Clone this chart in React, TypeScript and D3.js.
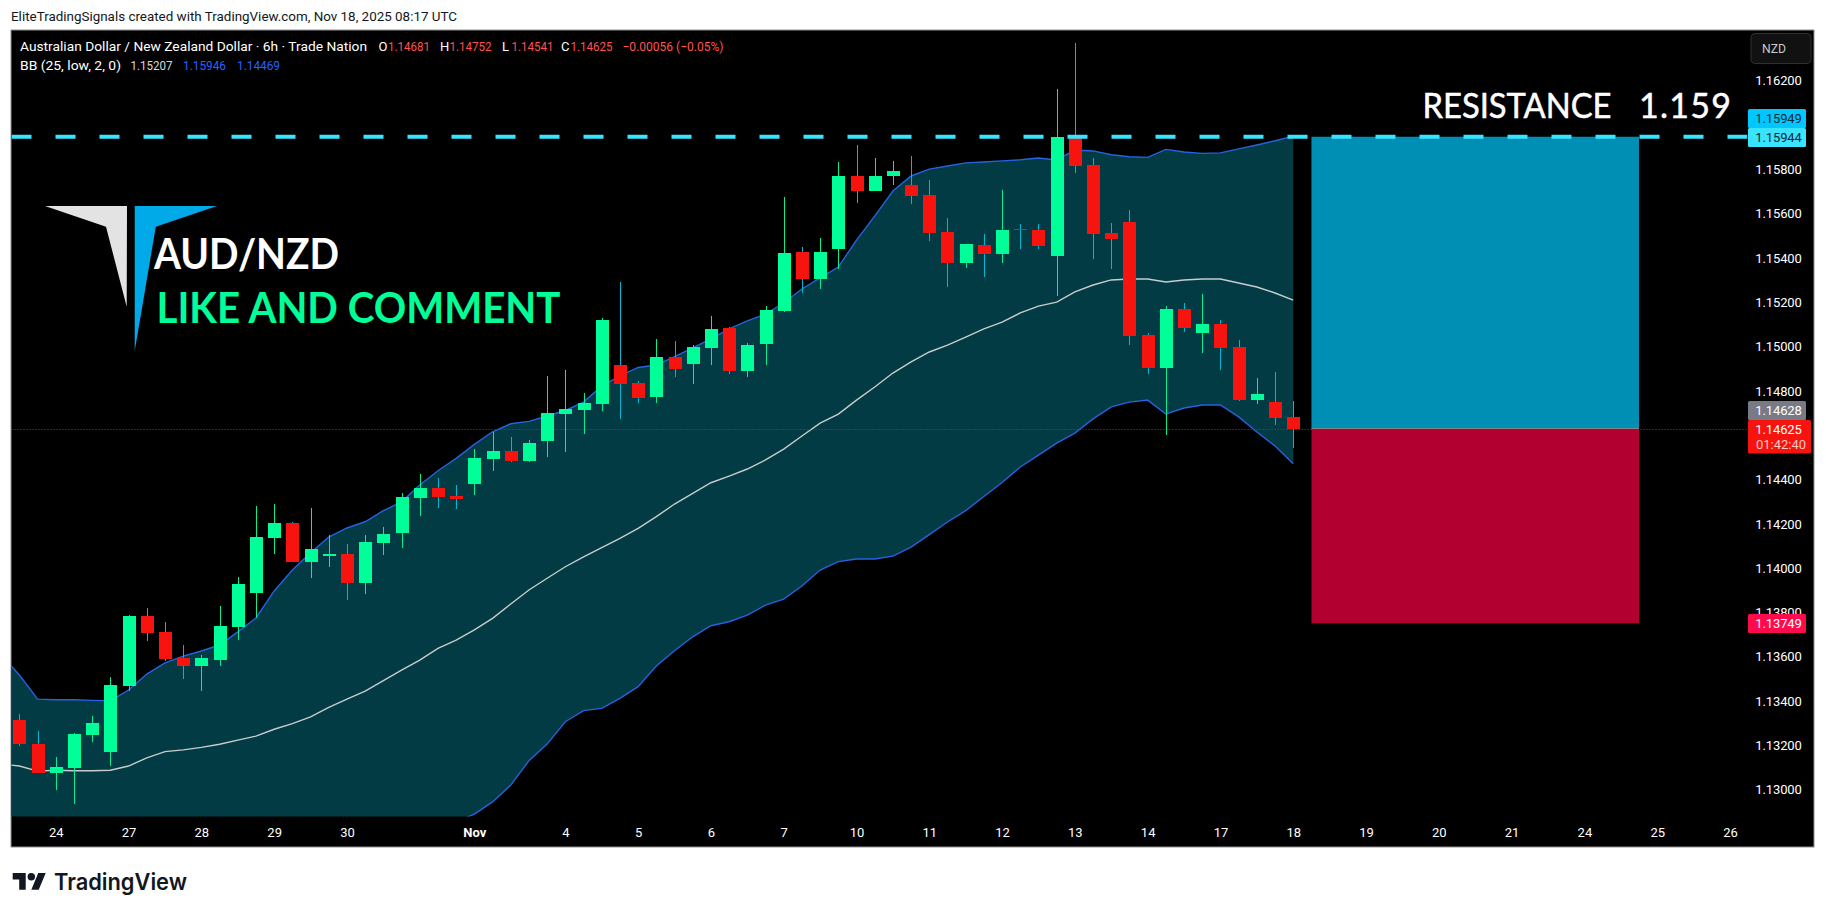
import { useEffect, useRef } from 'react'
import * as d3 from 'd3'

// OHLC of the 6h candles, oldest first
const opens = [1.13313,1.13204,1.13073,1.13096,1.13245,1.13168,1.13466,1.13782,1.13710,1.13592,1.13556,1.13583,1.13732,1.13886,1.14134,1.14201,1.14025,1.14052,1.14061,1.13931,1.14111,1.14156,1.14314,1.14359,1.14323,1.14377,1.14490,1.14526,1.14481,1.14571,1.14693,1.14711,1.14738,1.14914,1.14833,1.14770,1.14950,1.14919,1.14991,1.15081,1.14887,1.15009,1.15158,1.15424,1.15302,1.15438,1.15767,1.15699,1.15767,1.15726,1.15681,1.15514,1.15374,1.15456,1.15415,1.15528,1.15523,1.15406,1.15943,1.15817,1.15510,1.15559,1.15050,1.14901,1.15167,1.15059,1.15099,1.14995,1.14756,1.14747,1.14681]
const highs = [1.13340,1.13263,1.13144,1.13255,1.13331,1.13507,1.13786,1.13818,1.13755,1.13651,1.13606,1.13827,1.13958,1.14278,1.14287,1.14206,1.14269,1.14147,1.14107,1.14147,1.14183,1.14337,1.14422,1.14404,1.14373,1.14535,1.14612,1.14589,1.14576,1.14865,1.14892,1.14788,1.15126,1.15289,1.14842,1.15032,1.15022,1.15004,1.15135,1.15086,1.15013,1.15180,1.15672,1.15447,1.15487,1.15830,1.15907,1.15848,1.15835,1.15857,1.15749,1.15577,1.15460,1.15505,1.15704,1.15550,1.15550,1.16159,1.16367,1.15848,1.15555,1.15613,1.15059,1.15180,1.15194,1.15235,1.15117,1.15027,1.14855,1.14883,1.14752]
const lows = [1.13197,1.13073,1.12997,1.12934,1.13213,1.13105,1.13443,1.13669,1.13579,1.13497,1.13443,1.13556,1.13673,1.13771,1.14061,1.14025,1.13953,1.14003,1.13854,1.13881,1.14057,1.14089,1.14233,1.14269,1.14264,1.14328,1.14436,1.14477,1.14477,1.14499,1.14522,1.14603,1.14707,1.14671,1.14743,1.14743,1.14860,1.14828,1.14914,1.14874,1.14860,1.14914,1.15153,1.15239,1.15257,1.15347,1.15645,1.15699,1.15726,1.15641,1.15474,1.15266,1.15352,1.15311,1.15374,1.15438,1.15438,1.15226,1.15780,1.15392,1.15347,1.15004,1.14874,1.14598,1.15063,1.14968,1.14892,1.14752,1.14738,1.14643,1.14541]
const closes = [1.13206,1.13073,1.13100,1.13249,1.13299,1.13470,1.13782,1.13705,1.13588,1.13556,1.13592,1.13737,1.13926,1.14138,1.14201,1.14025,1.14084,1.14061,1.13931,1.14116,1.14152,1.14319,1.14359,1.14319,1.14310,1.14495,1.14526,1.14481,1.14562,1.14698,1.14716,1.14743,1.15117,1.14828,1.14765,1.14950,1.14896,1.14995,1.15077,1.14887,1.15004,1.15162,1.15420,1.15302,1.15424,1.15767,1.15699,1.15767,1.15789,1.15677,1.15510,1.15374,1.15460,1.15415,1.15523,1.15523,1.15451,1.15943,1.15812,1.15505,1.15483,1.15045,1.14901,1.15167,1.15081,1.15099,1.14991,1.14756,1.14783,1.14675,1.14625]

// Bollinger bands, first value belongs to the bar just left of the visible pane
const bbUpper = [1.13606,1.13516,1.13407,1.13404,1.13404,1.13401,1.13399,1.13448,1.13520,1.13570,1.13601,1.13624,1.13651,1.13710,1.13773,1.13895,1.13989,1.14067,1.14138,1.14179,1.14207,1.14257,1.14297,1.14373,1.14437,1.14493,1.14556,1.14613,1.14649,1.14660,1.14684,1.14709,1.14747,1.14819,1.14865,1.14903,1.14914,1.14952,1.14991,1.15032,1.15077,1.15113,1.15144,1.15194,1.15257,1.15307,1.15356,1.15478,1.15586,1.15699,1.15767,1.15798,1.15812,1.15826,1.15830,1.15835,1.15840,1.15848,1.15839,1.15884,1.15880,1.15863,1.15854,1.15851,1.15887,1.15875,1.15869,1.15871,1.15889,1.15907,1.15926,1.15946]
const bbBasis = [1.13114,1.13105,1.13082,1.13086,1.13084,1.13084,1.13086,1.13105,1.13142,1.13170,1.13178,1.13189,1.13203,1.13222,1.13240,1.13271,1.13296,1.13327,1.13370,1.13407,1.13443,1.13490,1.13538,1.13583,1.13636,1.13673,1.13719,1.13771,1.13836,1.13899,1.13952,1.14004,1.14049,1.14090,1.14132,1.14177,1.14230,1.14287,1.14335,1.14383,1.14413,1.14445,1.14486,1.14535,1.14594,1.14652,1.14693,1.14756,1.14815,1.14878,1.14928,1.14973,1.15004,1.15040,1.15077,1.15108,1.15149,1.15180,1.15198,1.15244,1.15275,1.15298,1.15302,1.15302,1.15289,1.15298,1.15302,1.15302,1.15284,1.15266,1.15239,1.15207]
const bbLower = [1.12622,1.12694,1.12758,1.12767,1.12762,1.12767,1.12771,1.12762,1.12767,1.12771,1.12758,1.12753,1.12753,1.12735,1.12708,1.12645,1.12604,1.12586,1.12600,1.12636,1.12681,1.12722,1.12780,1.12794,1.12834,1.12852,1.12888,1.12943,1.13019,1.13129,1.13204,1.13305,1.13355,1.13365,1.13410,1.13463,1.13556,1.13625,1.13688,1.13738,1.13756,1.13786,1.13831,1.13858,1.13917,1.13989,1.14027,1.14039,1.14039,1.14052,1.14093,1.14149,1.14206,1.14257,1.14321,1.14384,1.14454,1.14508,1.14562,1.14607,1.14671,1.14725,1.14747,1.14756,1.14693,1.14720,1.14734,1.14734,1.14680,1.14612,1.14549,1.14469]

// 1.16000 and 1.14600 sit completely behind the price tags, so they are left out
const priceTicks = [1.13, 1.132, 1.134, 1.136, 1.138, 1.14, 1.142, 1.144, 1.148, 1.15, 1.152, 1.154, 1.156, 1.158, 1.162]
const timeTickBars = [2, 6, 10, 14, 18, 25, 30, 34, 38, 42, 46, 50, 54, 58, 62, 66, 70, 74, 78, 82, 86, 90, 94]
const timeTickLabels = ['24', '27', '28', '29', '30', 'Nov', '4', '5', '6', '7', '10', '11', '12', '13', '14', '17', '18', '19', '20', '21', '24', '25', '26']

const resistance = 1.15944
const entry = 1.14628
const stop = 1.13749
const lastClose = 1.14625
const boxBars = [71, 89]

const UI_FONT = 'Roboto, sans-serif'
const GREEN = '#00ff99'
const RED = '#f7130e'

export default function App() {
  const svgRef = useRef<SVGSVGElement>(null)

  useEffect(() => {
    if (!svgRef.current) return
    const svg = d3.select(svgRef.current)
    svg.selectAll('*').remove()

    const width = 1826
    const height = 914
    const pane = { left: 11.5, right: 1747.5, top: 30.5, bottom: 816.5 }
    const frameBottom = 847
    const frameRight = 1814

    const x = d3.scaleLinear().domain([0, 94]).range([19.4, 1730])
    const y = d3.scaleLinear().domain([1.13, 1.162]).range([789.3, 80])
    const snap = (v: number) => Math.round(v)

    const text = (
      px: number, py: number, s: string,
      o: { size?: number; fill?: string; weight?: number; len?: number; anchor?: string; font?: string; adjust?: string } = {},
    ) => {
      const t = svg.append('text')
        .attr('x', px).attr('y', py)
        .attr('font-family', o.font ?? UI_FONT)
        .attr('font-size', o.size ?? 13)
        .attr('font-weight', o.weight ?? 400)
        .attr('fill', o.fill ?? '#fff')
        .attr('text-anchor', o.anchor ?? 'start')
        .text(s)
      if (o.len) t.attr('textLength', o.len).attr('lengthAdjust', o.adjust ?? 'spacingAndGlyphs')
      return t
    }

    svg.attr('viewBox', `0 0 ${width} ${height}`)
    svg.append('rect').attr('width', width).attr('height', height).attr('fill', '#fff')

    // Chart frame
    svg.append('rect')
      .attr('x', 11).attr('y', 30)
      .attr('width', frameRight - 11).attr('height', frameBottom - 30)
      .attr('fill', '#000')
      .attr('stroke', '#8f8f8f')
      .attr('stroke-width', 1)

    svg.append('defs').append('clipPath').attr('id', 'pane')
      .append('rect')
      .attr('x', pane.left).attr('y', pane.top)
      .attr('width', pane.right - pane.left).attr('height', pane.bottom - pane.top)

    const plot = svg.append('g').attr('clip-path', 'url(#pane)')

    // Bollinger band fill and lines
    const bars = bbUpper.map((_, i) => i - 1)
    const area = d3.area<number>()
      .x(d => x(d))
      .y0(d => y(bbLower[d + 1]))
      .y1(d => y(bbUpper[d + 1]))
    plot.append('path').datum(bars).attr('d', area).attr('fill', '#023b43')

    const bandLine = (vals: number[], color: string, w: number) => {
      const line = d3.line<number>().x(d => x(d)).y(d => y(vals[d + 1]))
      plot.append('path').datum(bars)
        .attr('d', line)
        .attr('fill', 'none')
        .attr('stroke', color)
        .attr('stroke-width', w)
    }
    bandLine(bbBasis, '#c8cccc', 1.4)
    bandLine(bbUpper, '#2563e0', 1.4)
    bandLine(bbLower, '#2563e0', 1.4)

    // Last price line
    plot.append('line')
      .attr('x1', pane.left).attr('x2', pane.right)
      .attr('y1', snap(y(lastClose)) + 0.5).attr('y2', snap(y(lastClose)) + 0.5)
      .attr('stroke', RED)
      .attr('stroke-width', 1)
      .attr('stroke-dasharray', '1 2')

    // Candles
    opens.forEach((o, i) => {
      const c = closes[i]
      const up = c >= o
      const cx = snap(x(i))
      plot.append('rect')
        .attr('x', cx).attr('width', 1)
        .attr('y', y(highs[i])).attr('height', y(lows[i]) - y(highs[i]))
        .attr('fill', up ? '#00f09a' : '#00b8d4')
        .attr('shape-rendering', 'crispEdges')
      const top = snap(y(Math.max(o, c)))
      const bottom = snap(y(Math.min(o, c)))
      plot.append('rect')
        .attr('x', cx - 6).attr('width', 13)
        .attr('y', top).attr('height', Math.max(1, bottom - top))
        .attr('fill', up ? GREEN : RED)
        .attr('shape-rendering', 'crispEdges')
    })

    // Long position boxes
    const boxL = x(boxBars[0])
    const boxR = x(boxBars[1])
    plot.append('rect')
      .attr('x', boxL).attr('width', boxR - boxL)
      .attr('y', y(resistance)).attr('height', y(entry) - y(resistance))
      .attr('fill', '#008fb4')
    plot.append('rect')
      .attr('x', boxL).attr('width', boxR - boxL)
      .attr('y', y(entry)).attr('height', y(stop) - y(entry))
      .attr('fill', '#b20030')
    plot.append('line')
      .attr('x1', boxL).attr('x2', boxR)
      .attr('y1', y(entry)).attr('y2', y(entry))
      .attr('stroke', '#8a8a8a').attr('stroke-width', 1)

    // Resistance line
    plot.append('line')
      .attr('x1', pane.left).attr('x2', pane.right)
      .attr('y1', y(resistance)).attr('y2', y(resistance))
      .attr('stroke', '#38e4ff')
      .attr('stroke-width', 4)
      .attr('stroke-dasharray', '20 24')

    // Price axis
    const priceAxis = svg.append('g')
      .attr('transform', `translate(${1778.5},0)`)
      .call(d3.axisRight(y).tickValues(priceTicks).tickFormat(d => (d as number).toFixed(5)).tickSize(0).tickPadding(0))
    priceAxis.select('.domain').remove()
    priceAxis.selectAll('text')
      .attr('font-family', UI_FONT).attr('font-size', 13).attr('fill', '#fff')
      .attr('text-anchor', 'middle').attr('dy', '0.36em')
      .attr('letter-spacing', '-0.1')

    // Time axis
    const timeAxis = svg.append('g')
      .attr('transform', `translate(0,${832.5})`)
      .call(d3.axisBottom(x).tickValues(timeTickBars).tickFormat((_, i) => timeTickLabels[i]).tickSize(0).tickPadding(0))
    timeAxis.select('.domain').remove()
    timeAxis.selectAll('text')
      .attr('font-family', UI_FONT).attr('font-size', 13).attr('fill', '#fff')
      .attr('dy', '0.36em').attr('y', 0)
      .attr('font-weight', (_, i) => (timeTickLabels[i] === 'Nov' ? 700 : 400))

    // Price tags
    const tag = (top: number, bottom: number, right: number, fill: string) =>
      svg.append('rect')
        .attr('x', 1748).attr('y', top)
        .attr('width', right - 1748).attr('height', bottom - top)
        .attr('rx', 1.5)
        .attr('fill', fill)
    tag(109, 128, 1806, '#00c8ff')
    tag(128, 147, 1806, '#38e4ff')
    tag(401, 420, 1806, '#787b86')
    tag(420, 453.5, 1811, RED)
    tag(614, 633, 1806, '#ff0a4c')
    const tagText = (cy: number, s: string, fill = '#fff') =>
      text(1778.5, cy + 4.6, s, { anchor: 'middle', fill }).attr('letter-spacing', '-0.1')
    tagText(118.5, '1.15949', '#10282f')
    tagText(137.5, '1.15944', '#10282f')
    tagText(410.5, '1.14628')
    tagText(429.5, '1.14625')
    text(1781, 449, '01:42:40', { anchor: 'middle', fill: '#ffc9c5' })
    tagText(623.5, '1.13749')

    // Currency button
    svg.append('rect')
      .attr('x', 1751).attr('y', 33.5).attr('width', 60).attr('height', 30).attr('rx', 4)
      .attr('fill', '#111').attr('stroke', '#303030')
    text(1762, 52.5, 'NZD', { size: 12, fill: '#c8c8c8', len: 24 })

    // Legend
    text(20, 51, 'Australian Dollar / New Zealand Dollar · 6h · Trade Nation', { size: 13, len: 347 })
    const ohlc = [['O', '1.14681', 378.5], ['H', '1.14752', 440], ['L', '1.14541', 502], ['C', '1.14625', 561]] as const
    ohlc.forEach(([k, v, px]) => {
      text(px, 51, k, { size: 13 })
      text(px + 9.5, 51, v, { size: 13, fill: '#ff5252', len: 42 })
    })
    text(622.5, 51, '−0.00056 (−0.05%)', { size: 13, fill: '#ff5252', len: 101 })
    text(20, 70, 'BB (25, low, 2, 0)', { size: 13, len: 101 })
    text(130.5, 70, '1.15207', { size: 13, fill: '#d8d8d8', len: 42 })
    text(183, 70, '1.15946', { size: 13, fill: '#2962ff', len: 43 })
    text(237, 70, '1.14469', { size: 13, fill: '#2962ff', len: 43 })

    // Annotations
    const logo = d3.line()
    svg.append('path')
      .attr('d', logo([[45, 206], [127, 206], [126.7, 306.7], [106, 226.7]])! + 'Z')
      .attr('fill', '#e3e3e3')
    svg.append('path')
      .attr('d', logo([[134.7, 206], [217, 206], [155.8, 226.7], [134.7, 351]])! + 'Z')
      .attr('fill', '#00a9e8')
    text(154, 269, 'AUD/NZD', { font: 'Lato, sans-serif', size: 42, weight: 700, len: 185 })
    text(156.5, 322.7, 'LIKE AND COMMENT', { font: 'Lato, sans-serif', size: 42, weight: 700, fill: GREEN, len: 404 })
    text(1422.5, 118.3, 'RESISTANCE', { font: 'Lato, sans-serif', size: 34, len: 189 })
      .attr('stroke', '#fff').attr('stroke-width', 0.5)
    text(1639, 118.3, '1.159', { font: 'Lato, sans-serif', size: 34, len: 92, adjust: 'spacing' })
      .attr('stroke', '#fff').attr('stroke-width', 0.5)

    // Watermark text above and brand below the frame
    text(11, 21, 'EliteTradingSignals created with TradingView.com, Nov 18, 2025 08:17 UTC', { size: 13, fill: '#131722', len: 446 })
    svg.append('path')
      .attr('transform', 'translate(12.7,869.3) scale(0.93)')
      .attr('d', 'M14 22H7V11H0V4h14v18zM28 22h-8l7.5-18h8L28 22z')
      .attr('fill', '#131722')
    svg.append('circle')
      .attr('transform', 'translate(12.7,869.3) scale(0.93)')
      .attr('cx', 20).attr('cy', 8).attr('r', 4)
      .attr('fill', '#131722')
    text(54, 889.5, 'TradingView', { font: 'Inter, sans-serif', size: 23, weight: 600, fill: '#131722', len: 133 })
  }, [])

  return <svg ref={svgRef} width={1826} height={914} style={{ position: 'absolute', left: 0, top: 0 }} />
}
